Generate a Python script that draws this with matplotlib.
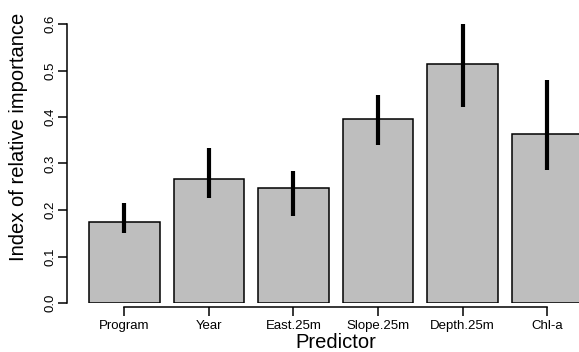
import matplotlib.pyplot as plt
import numpy as np

plt.rcParams['font.family'] = ['Liberation Sans', 'DejaVu Sans']

predictors = ["Program", "Year", "East.25m", "Slope.25m", "Depth.25m", "Chl-a"]
importance = [0.175, 0.266, 0.247, 0.395, 0.513, 0.363]
ci_low = [0.151, 0.225, 0.187, 0.340, 0.422, 0.286]
ci_high = [0.216, 0.333, 0.284, 0.447, 0.600, 0.480]

W, H = 579, 352
fig = plt.figure(figsize=(W / 100, H / 100), dpi=100)

# plot region runs off the right edge, last bar is cut
left_px, right_px, zero_px = 66.7, 610.0, 303.0
ax = fig.add_axes([left_px / W, (H - zero_px) / H,
                   (right_px - left_px) / W, zero_px / H])

x = np.arange(len(predictors))
ax.bar(x, importance, width=0.835, color='#bebebe', edgecolor='black',
       linewidth=1.1, zorder=2)
ax.vlines(x, ci_low, ci_high, color='black', linewidth=3.0, zorder=3)

step = 84.6
ax.set_xlim((left_px - 124.3) / step, (right_px - 124.3) / step)
ax.set_ylim(0, zero_px / 465.0)

ax.spines['top'].set_visible(False)
ax.spines['right'].set_visible(False)
ax.spines['left'].set_bounds(0, 0.6)
ax.spines['bottom'].set_bounds(0, 5)
ax.spines['bottom'].set_position(('outward', 3))
for s in ('left', 'bottom'):
    ax.spines[s].set_linewidth(1.1)

ax.set_yticks(np.arange(0, 0.61, 0.1))
ax.set_yticklabels([f"{v:.1f}" for v in np.arange(0, 0.61, 0.1)],
                   rotation=90, va='center')
ax.set_xticks(x)
ax.set_xticklabels(predictors)
ax.tick_params(axis='both', length=6.5, width=1.1, labelsize=9.5)
ax.tick_params(axis='y', pad=1.0)
ax.tick_params(axis='x', pad=2.5)

ax.set_ylabel("Index of relative importance", fontsize=14.5)
ax.yaxis.set_label_coords((18 - left_px) / (right_px - left_px), (zero_px - 137) / zero_px)
ax.yaxis.label.set_va('center')
ax.set_xlabel("Predictor", fontsize=14.5)
ax.xaxis.set_label_coords((335.5 - left_px) / (right_px - left_px), (zero_px - 343) / zero_px)
ax.xaxis.label.set_va('center')

fig.savefig("out.png", dpi=100)
